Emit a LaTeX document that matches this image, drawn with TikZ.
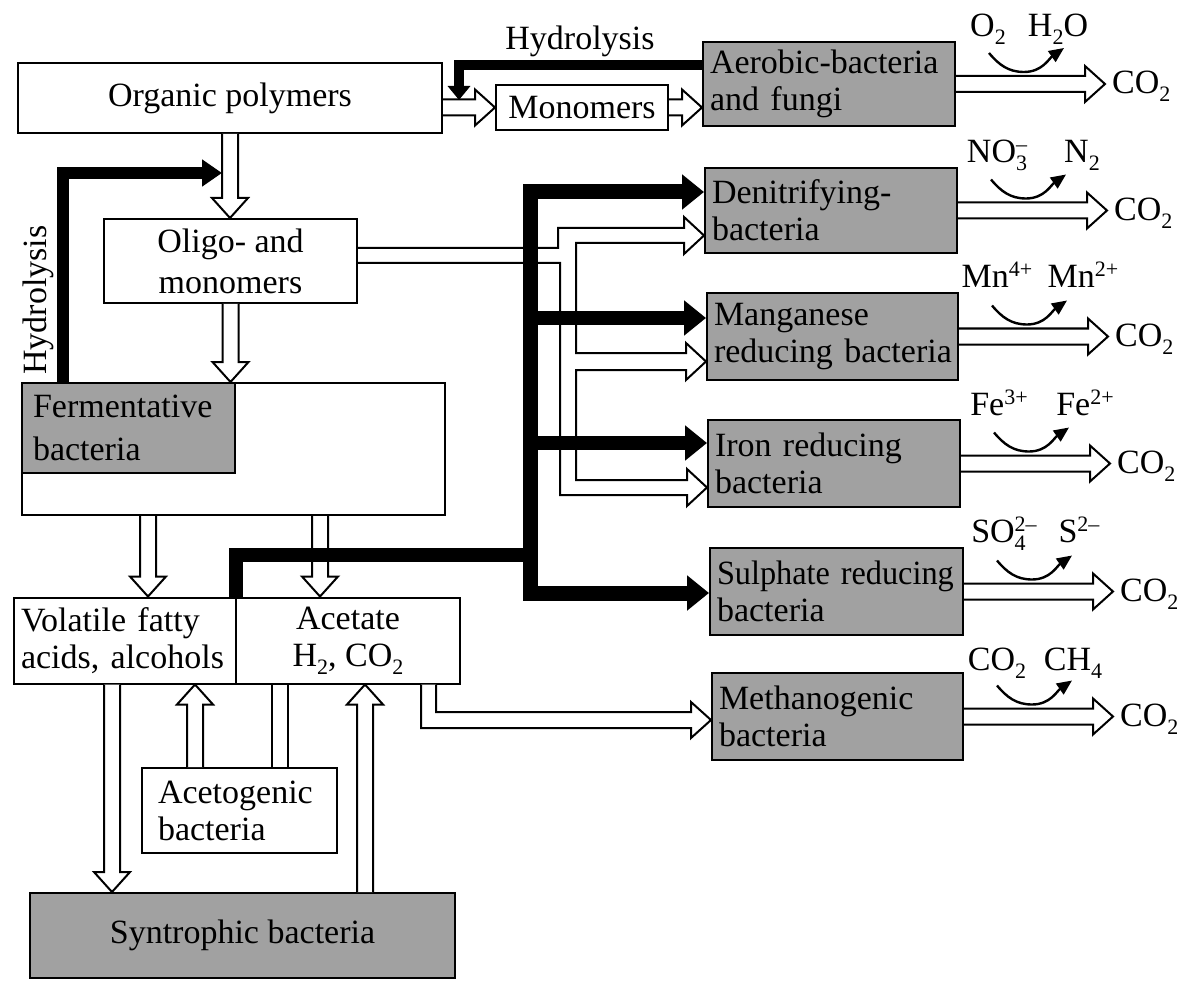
\documentclass[tikz,border=0pt]{standalone}
\usepackage{fontspec}
\setmainfont{Liberation Serif}
\usetikzlibrary{arrows.meta,calc}
\definecolor{boxgray}{gray}{0.63}
\newcommand{\fsz}{\fontsize{34}{37}\selectfont}
\newcommand{\sbs}[1]{\raisebox{-8pt}{\fontsize{22}{22}\selectfont #1}}
\newcommand{\sps}[1]{\raisebox{11pt}{\fontsize{22}{22}\selectfont #1}}
\newcommand{\sbsps}[2]{\rlap{\sbs{#1}}\sps{#2}}
\newcommand{\hollowH}[2]{\filldraw[pipe] let \p1=#1, \p2=#2 in
  (\x1,\y1+8pt) -- (\x2-20pt,\y1+8pt) -- (\x2-20pt,\y1+18pt) -- (\x2,\y1) --
  (\x2-20pt,\y1-18pt) -- (\x2-20pt,\y1-8pt) -- (\x1,\y1-8pt);}
\newcommand{\hollowD}[2]{\filldraw[pipe] let \p1=#1, \p2=#2 in
  (\x1-8pt,\y1) -- (\x1-8pt,\y2+20pt) -- (\x1-18pt,\y2+20pt) -- (\x1,\y2) --
  (\x1+18pt,\y2+20pt) -- (\x1+8pt,\y2+20pt) -- (\x1+8pt,\y1);}
\newcommand{\hollowU}[2]{\filldraw[pipe] let \p1=#1, \p2=#2 in
  (\x1-8pt,\y1) -- (\x1-8pt,\y2-20pt) -- (\x1-18pt,\y2-20pt) -- (\x1,\y2) --
  (\x1+18pt,\y2-20pt) -- (\x1+8pt,\y2-20pt) -- (\x1+8pt,\y1);}
\tikzset{
  box/.style={draw, line width=2pt, fill=white, inner sep=0pt, font=\fsz},
  gbox/.style={box, fill=boxgray, align=left, inner xsep=7pt},
  pipe/.style={draw, fill=white, line width=2pt, line join=miter},
  pipeline/.style={line width=2pt},
  blk/.style={line width=#1, line join=miter},
  bigtip/.tip={Triangle[length=22pt,width=34pt]},
  curv/.style={line width=2.4pt, -{Triangle[length=15pt,width=13pt]}},
  lab/.style={font=\fsz, inner sep=0pt, anchor=base},
}
\begin{document}
\begin{tikzpicture}[x=1pt,y=-1pt]
\useasboundingbox (0,0) rectangle (1177,981);
\fill[white] (0,0) rectangle (1177,981);

% ---------- boxes ----------
\node[box, minimum width=424pt, minimum height=70pt] (op) at (230,98) {Organic polymers};
\node[box, minimum width=172pt, minimum height=45pt] (mono) at (582,107.5) {Monomers};
\node[box, minimum width=253pt, minimum height=84pt, align=center,
      font=\fontsize{34}{41}\selectfont] (oligo) at (230.5,261) {Oligo- and\\monomers};
\node[box, minimum width=423pt, minimum height=132pt] (big) at (233.5,449) {};
\node[gbox, anchor=north west, text width=191pt, inner xsep=11pt, minimum height=90pt,
      font=\fontsize{34}{43}\selectfont] (fer) at (big.north west) {Fermentative\\bacteria};
\node[box, align=left, text width=208pt, inner xsep=7pt, minimum height=86pt] (vol)
      at (125,640.5) {\mbox{Volatile fatty}\\\mbox{acids, alcohols}};
\node[box, align=center, minimum width=224pt, minimum height=86pt] (acet)
      at (348,640.5) {Acetate\\H\sbs{2}, CO\sbs{2}};
\node[box, align=left, text width=163pt, inner xsep=16pt, minimum height=85pt] (acg)
      at (239.5,810.5) {Acetogenic\\bacteria};
\node[box, fill=boxgray, minimum width=425pt, minimum height=85pt] (syn)
      at (242.5,935.5) {Syntrophic bacteria};

\node[gbox, text width=238pt, minimum height=84pt] (aer) at (829,84) {\mbox{Aerobic-bacteria}\\\mbox{and fungi}};
\node[gbox, text width=238pt, minimum height=85pt] (den) at (831,210.5) {\mbox{Denitrifying-}\\bacteria};
\node[gbox, text width=237pt, minimum height=87pt] (man) at (832.5,336.5) {Manganese\\\mbox{reducing bacteria}};
\node[gbox, text width=238pt, minimum height=87pt] (iron) at (834,463.5) {\mbox{Iron reducing}\\bacteria};
\node[gbox, text width=239pt, minimum height=87pt] (sul) at (836.5,591.5) {\mbox{\scalebox{0.95}[1]{Sulphate reducing}}\\bacteria};
\node[gbox, text width=237pt, minimum height=87pt] (met) at (837.5,716.5) {Methanogenic\\bacteria};

% ---------- labels ----------
\node[lab] (hyt) at (580,50) {Hydrolysis};
\node[lab, anchor=center, rotate=90] (hyl) at (38,300) {Hydrolysis};

% ---------- hollow arrows (left part) ----------
\hollowD{(op.south)}{(oligo.north)}
\hollowD{(oligo.south)}{(big.north)}
\hollowH{(op.east |- mono.west)}{(mono.west)}
\hollowH{(mono.east)}{(aer.west)}
\hollowD{([xshift=-85.5pt]big.south)}{(vol.north)}
\hollowD{([xshift=86.5pt]big.south)}{(acet.north)}
\hollowD{([xshift=-13pt]vol.south)}{(syn.north)}
\hollowU{([xshift=-44.5pt]acg.north)}{(vol.south)}
\hollowU{([xshift=122.5pt]syn.north)}{(acet.south)}
\coordinate (ag1) at ([xshift=32.5pt]acg.north);
\coordinate (ag2) at ([xshift=48.5pt]acg.north);
\draw[pipeline] (ag1) -- (ag1 |- acet.south);
\draw[pipeline] (ag2) -- (ag2 |- acet.south);

% ---------- pipe from oligo- and monomers ----------
\coordinate (pa) at (0,248);
\coordinate (pb) at (0,263);
\coordinate (pd) at (0,235.5);
\coordinate (pm) at (0,361.5);
\coordinate (pi) at (0,487.5);
\filldraw[pipe] (oligo.east |- pa) -- (558,248) -- (558,228) -- (684,228) -- (684,217)
  -- (den.west |- pd) -- (684,254) -- (684,243) -- (576,243) -- (576,353) -- (686,353)
  -- (686,343) -- (man.west |- pm) -- (686,380) -- (686,370) -- (576,370) -- (576,480)
  -- (687,480) -- (687,469) -- (iron.west |- pi) -- (687,506) -- (687,495) -- (560,495)
  -- (560,263) -- (oligo.east |- pb);

% ---------- pipe from acetate to methanogenic ----------
\coordinate (mo) at (421,720);
\coordinate (mi) at (436,720);
\filldraw[pipe] (mo |- acet.south) -- (421,728) -- (691,728) -- (691,738)
  -- (met.west |- mo) -- (691,702) -- (691,712) -- (436,712) -- (mi |- acet.south);

% ---------- outputs to CO2 ----------
\foreach \b/\c in {aer/c1, den/c2, man/c3, iron/c4, sul/c5, met/c6}{
  \node[lab, anchor=base west] (\c) at ($(\b.east)+(156,10)$) {CO\sbs{2}};
  \hollowH{(\b.east)}{([xshift=-7pt]\c.west)}
  \draw[curv] ($(\b.east)+(33,-31)$) to[out=-50,in=180] ($(\b.east)+(68,-12)$)
      to[out=0,in=-145] ($(\b.east)+(108,-36)$);
}
\node[lab] (o2) at (988,37) {O\sbs{2}};
\node[lab] (h2o) at (1058,37) {H\sbs{2}O};
\node[lab] (no3) at (997,163) {NO\sbsps{3}{–}};
\node[lab] (n2) at (1082,163) {N\sbs{2}};
\node[lab] (mn4) at (997,288) {Mn\sps{4+}};
\node[lab] (mn2) at (1083,288) {Mn\sps{2+}};
\node[lab] (fe3) at (999,415) {Fe\sps{3+}};
\node[lab] (fe2) at (1085,415) {Fe\sps{2+}};
\node[lab] (so4) at (1004,542) {SO\sbsps{4}{2–}};
\node[lab] (s2) at (1079,542) {S\sps{2–}};
\node[lab] (cm) at (997,670) {CO\sbs{2}};
\node[lab] (ch4) at (1073,670) {CH\sbs{4}};

% ---------- black arrows ----------
\coordinate (hA) at (459,65);
\coordinate (hB) at (459,100);
\draw[blk=10pt, -{Triangle[length=14pt,width=22pt]}] (aer.west |- hA) -- (hA) -- (hB);
\coordinate (hC) at (63,173);
\coordinate (hD) at (222,173);
\draw[blk=12pt, -{Triangle[length=20pt,width=26pt]}] (fer.north west -| hC) -- (hC) -- (hD);

\coordinate (tT) at (530,192);
\coordinate (tB) at (530,593);
\coordinate (tM) at (530,318);
\coordinate (tI) at (530,443);
\coordinate (tA) at (530,555);
\coordinate (aC) at (236,555);
\draw[blk=15pt, bigtip-bigtip] (den.west |- tT) -- (tT) -- (tB) -- (sul.west |- tB);
\draw[blk=14pt, -bigtip] (tM) -- (man.west |- tM);
\draw[blk=14pt, -bigtip] (tI) -- (iron.west |- tI);
\draw[blk=14pt] (aC |- acet.north) -- (aC) -- (tA);
\end{tikzpicture}
\end{document}
